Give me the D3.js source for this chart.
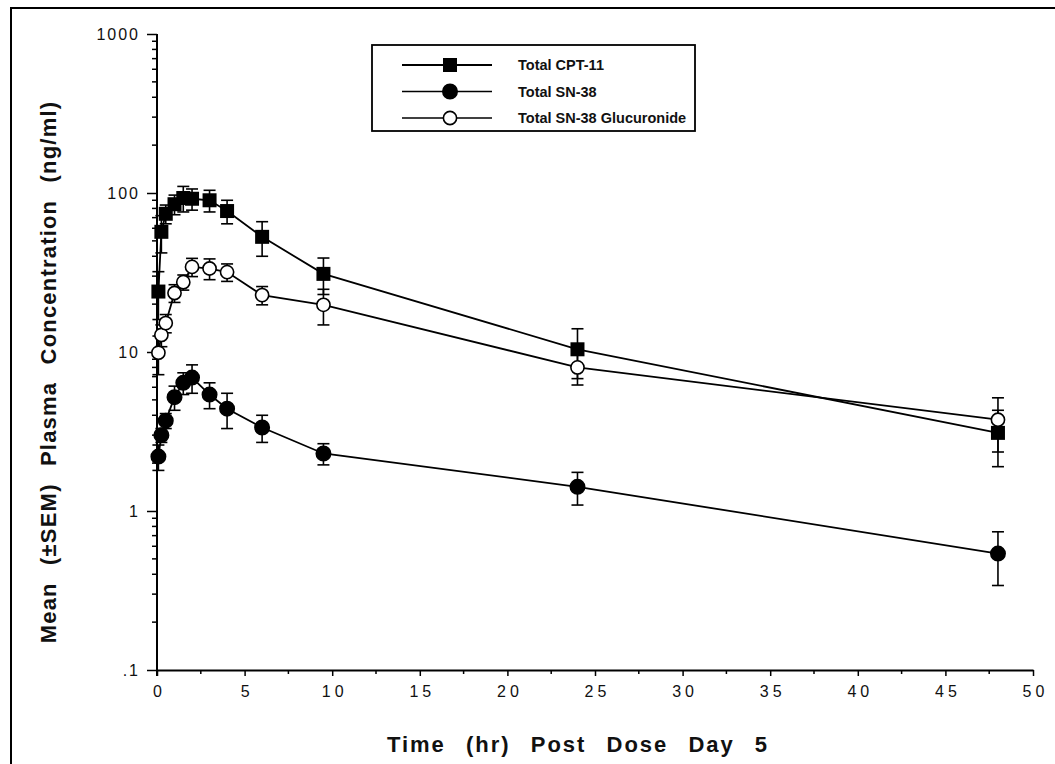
<!DOCTYPE html>
<html>
<head>
<meta charset="utf-8">
<script src="https://cdn.jsdelivr.net/npm/d3@7"></script>
<style>
    body { margin: 0; background: #fff; }
    text { font-family: Arial, "Liberation Sans", sans-serif; fill: #111; }
</style>
</head>
<body>
<div id="chart"></div>
<script>
// sampling times (hr)
var times = [0.08, 0.25, 0.5, 1, 1.5, 2, 3, 4, 6, 9.5, 24, 48];

// mean concentrations (ng/ml) and SEM
var cpt11 = [24, 57, 74, 85, 93, 92, 90, 77, 53, 31, 10.4, 3.1];
var cpt11Sem = [8, 15, 10, 12, 17, 14, 14, 13, 13, 8, 3.6, 1.2];
var sn38 = [2.2, 3.0, 3.7, 5.2, 6.4, 6.9, 5.4, 4.4, 3.35, 2.3, 1.42, 0.54];
var sn38Sem = [0.4, 0.3, 0.4, 0.9, 1.0, 1.4, 1.0, 1.1, 0.65, 0.35, 0.33, 0.2];
var sn38g = [9.9, 12.8, 15.2, 23.5, 27.5, 34.3, 33.5, 31.8, 22.8, 19.8, 8.0, 3.75];
var sn38gSem = [2.7, 2, 2, 3, 3, 4.5, 5, 4, 3, 5, 1.8, 1.4];

var seriesNames = ["Total CPT-11", "Total SN-38", "Total SN-38 Glucuronide"];

// axis ticks
var xTicks = [0, 5, 10, 15, 20, 25, 30, 35, 40, 45, 50];
var yTicks = [0.1, 1, 10, 100, 1000];
var yTickLabels = [".1", "1", "10", "100", "1000"];

function init() {
    const w = 1055;
    const h = 764;

    var svg = d3.select("#chart")
        .append("svg")
        .attr("width", w)
        .attr("height", h);

    // page frame (left + top)
    svg.append("path")
        .attr("d", "M11,764 L11,8 L1055,8")
        .attr("fill", "none")
        .attr("stroke", "#000")
        .attr("stroke-width", 2);

    var xScale = d3.scaleLinear().domain([0, 50]).range([157, 1033]);
    var yScale = d3.scaleLog().domain([0.1, 1000]).range([670, 34]);

    // y axis
    var minorY = [];
    for (var e = -1; e < 3; e++) {
        for (var k = 2; k <= 9; k++) minorY.push(k * Math.pow(10, e));
    }
    var yAxis = d3.axisLeft(yScale)
        .tickValues(yTicks)
        .tickFormat((d, i) => yTickLabels[i])
        .tickSize(10)
        .tickPadding(7)
        .tickSizeOuter(0);
    var gy = svg.append("g")
        .attr("transform", "translate(157,0)")
        .call(yAxis);
    gy.selectAll(".minor")
        .data(minorY)
        .enter()
        .append("line")
        .attr("class", "minor")
        .attr("x1", -5)
        .attr("x2", 0)
        .attr("y1", (d) => yScale(d))
        .attr("y2", (d) => yScale(d))
        .attr("stroke", "#000")
        .attr("stroke-width", 1.5);
    gy.select(".domain").attr("d", "M0,34 L0,676").attr("stroke-width", 2);
    gy.selectAll(".tick line").attr("stroke-width", 1.5);
    gy.selectAll(".tick text")
        .style("font-size", "16px")
        .style("letter-spacing", "2px")
        .attr("fill", "#222");

    // x axis
    var xAxis = d3.axisBottom(xScale)
        .tickValues(xTicks)
        .tickSize(6)
        .tickPadding(10)
        .tickSizeOuter(0);
    var gx = svg.append("g")
        .attr("transform", "translate(0,670)")
        .call(xAxis);
    gx.selectAll(".minor")
        .data(d3.range(2.5, 50, 5))
        .enter()
        .append("line")
        .attr("class", "minor")
        .attr("x1", (d) => xScale(d))
        .attr("x2", (d) => xScale(d))
        .attr("y1", 0)
        .attr("y2", 4)
        .attr("stroke", "#000")
        .attr("stroke-width", 1.5);
    gx.select(".domain").attr("stroke-width", 2);
    gx.selectAll(".tick line").attr("stroke-width", 1.5);
    gx.selectAll(".tick text")
        .style("font-size", "16px")
        .style("letter-spacing", "4px")
        .attr("dx", 2)
        .attr("fill", "#222");

    // axis titles
    svg.append("text")
        .attr("x", 578)
        .attr("y", 752)
        .attr("text-anchor", "middle")
        .style("font-size", "22px")
        .style("font-weight", "bold")
        .style("letter-spacing", "2px")
        .style("word-spacing", "12px")
        .text("Time (hr) Post Dose Day 5");

    svg.append("text")
        .attr("transform", "translate(56,372) rotate(-90)")
        .attr("text-anchor", "middle")
        .style("font-size", "22px")
        .style("font-weight", "bold")
        .style("letter-spacing", "1.2px")
        .style("word-spacing", "10px")
        .text("Mean (\u00B1SEM) Plasma Concentration (ng/ml)");

    var series = [
        { name: seriesNames[0], values: cpt11, sem: cpt11Sem, shape: "square" },
        { name: seriesNames[1], values: sn38, sem: sn38Sem, shape: "dot" },
        { name: seriesNames[2], values: sn38g, sem: sn38gSem, shape: "ring" }
    ];

    var line = d3.line()
        .x((d) => xScale(d.t))
        .y((d) => yScale(d.v));

    var groups = svg.selectAll("g.series")
        .data(series)
        .enter()
        .append("g")
        .attr("class", "series");

    groups.each(function (s) {
        var g = d3.select(this);
        var pts = times.map((t, i) => ({ t: t, v: s.values[i], e: s.sem[i] }));

        g.append("path")
            .datum(pts)
            .attr("d", line)
            .attr("fill", "none")
            .attr("stroke", "#000")
            .attr("stroke-width", 1.8);

        // error bars
        var eb = g.selectAll("g.err")
            .data(pts)
            .enter()
            .append("g")
            .attr("stroke", "#000")
            .attr("stroke-width", 1.6);
        eb.append("line")
            .attr("x1", (d) => xScale(d.t))
            .attr("x2", (d) => xScale(d.t))
            .attr("y1", (d) => yScale(d.v + d.e))
            .attr("y2", (d) => yScale(d.v - d.e));
        eb.append("line")
            .attr("x1", (d) => xScale(d.t) - 6)
            .attr("x2", (d) => xScale(d.t) + 6)
            .attr("y1", (d) => yScale(d.v + d.e))
            .attr("y2", (d) => yScale(d.v + d.e));
        eb.append("line")
            .attr("x1", (d) => xScale(d.t) - 6)
            .attr("x2", (d) => xScale(d.t) + 6)
            .attr("y1", (d) => yScale(d.v - d.e))
            .attr("y2", (d) => yScale(d.v - d.e));
    });

    // markers drawn on top
    groups.each(function (s) {
        var g = d3.select(this);
        var pts = times.map((t, i) => ({ t: t, v: s.values[i] }));
        drawMarkers(g, pts, s.shape, (d) => xScale(d.t), (d) => yScale(d.v));
    });

    function drawMarkers(g, data, shape, fx, fy) {
        if (shape === "square") {
            g.selectAll("rect.mk")
                .data(data)
                .enter()
                .append("rect")
                .attr("class", "mk")
                .attr("x", (d) => fx(d) - 7)
                .attr("y", (d) => fy(d) - 7)
                .attr("width", 14)
                .attr("height", 14)
                .attr("fill", "#000");
        } else {
            g.selectAll("circle.mk")
                .data(data)
                .enter()
                .append("circle")
                .attr("class", "mk")
                .attr("cx", fx)
                .attr("cy", fy)
                .attr("r", shape === "dot" ? 7.2 : 6.6)
                .attr("fill", shape === "dot" ? "#000" : "#fff")
                .attr("stroke", "#000")
                .attr("stroke-width", 1.6);
        }
    }

    // legend
    var legend = svg.append("g");
    legend.append("rect")
        .attr("x", 372)
        .attr("y", 45)
        .attr("width", 323)
        .attr("height", 86)
        .attr("fill", "#fff")
        .attr("stroke", "#000")
        .attr("stroke-width", 1.8);

    var rows = legend.selectAll("g.row")
        .data(series)
        .enter()
        .append("g")
        .attr("transform", (d, i) => "translate(0," + (65 + i * 26.5) + ")");
    rows.append("line")
        .attr("x1", 402)
        .attr("x2", 492)
        .attr("stroke", "#000")
        .attr("stroke-width", (d, i) => i === 0 ? 2 : 1.3);
    rows.each(function (s) {
        drawMarkers(d3.select(this), [0], s.shape, () => 450, () => 0);
    });
    rows.append("text")
        .attr("x", 518)
        .attr("y", 5)
        .style("font-size", "14.5px")
        .style("font-weight", "bold")
        .text((d) => d.name);
}
window.onload = init();
</script>
</body>
</html>
